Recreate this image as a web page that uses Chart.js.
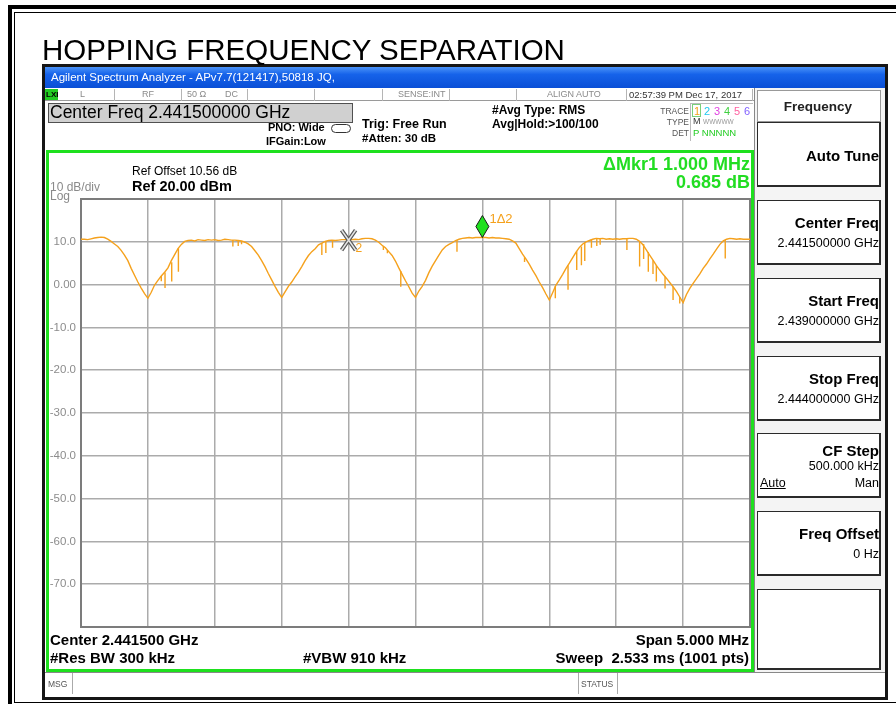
<!DOCTYPE html>
<html>
<head>
<meta charset="utf-8">
<title>Hopping Frequency Separation</title>
<script src="https://cdn.jsdelivr.net/npm/chart.js@4.4.1/dist/chart.umd.min.js"></script>
<style>
  html, body { margin: 0; padding: 0; background: #fff; }
  body { position: relative; width: 896px; height: 704px; overflow: hidden;
         font-family: "Liberation Sans", Arial, sans-serif; color: #000; }
  .a { position: absolute; white-space: pre; line-height: 1; box-sizing: border-box; }
  #chartWrap { position: absolute; left: 0; top: 0; width: 896px; height: 704px; }
  .key { position: absolute; left: 757px; width: 124px; background: #fff;
         border: 1px solid #2a2a2a; border-right-width: 2px; border-bottom-width: 2px; box-sizing: border-box; }
  .cell { position: absolute; top: 89px; height: 12px; width: 1px; background: #b5b5b5; }
</style>
</head>
<body>
<div class="a" style="left:8px;top:5px;width:920px;height:730px;border:4px solid #000;"></div>
<div class="a" style="left:14px;top:12px;width:900px;height:691px;border:1.5px solid #000;"></div>

<!-- analyzer window -->
<div class="a" style="left:42px;top:64px;width:846px;height:636px;border:3px solid #161616;background:#fff;"></div>
<div class="a" style="left:45px;top:67px;width:840px;height:21px;background:linear-gradient(#4b93f8 0%,#1663ea 35%,#0a4fd6 100%);"></div>
<div class="a" style="left:45px;top:88px;width:709px;height:13px;border-bottom:1px solid #9a9a9a;background:#fff;"></div>
<div class="a" style="left:45px;top:89px;width:13px;height:11px;background:#22cc22;"></div>
<div class="a" style="left:754px;top:88px;width:131px;height:584px;background:#f4f4f4;border-left:1px solid #888;"></div>
<div class="a" style="left:48px;top:103px;width:305px;height:20px;background:#d0d0d0;border:1px solid #505050;"></div>
<div class="a" style="left:690px;top:103px;width:63px;height:38px;border-left:1px solid #bbb;border-top:1px solid #bbb;"></div>
<div class="a" style="left:692px;top:104px;width:9px;height:13px;border:1px solid #7ad07a;"></div>
<div class="a" style="left:331px;top:124px;width:20px;height:9px;border:1.5px solid #333;border-radius:5px;"></div>
<div class="a" style="left:46px;top:150px;width:708px;height:522px;border:3px solid #1ee01e;"></div>
<div class="a" style="left:45px;top:672px;width:840px;height:23px;border-top:1px solid #888;background:#fff;"></div>
<div class="a" style="left:72px;top:673px;width:1px;height:21px;background:#aaa;"></div>
<div class="a" style="left:578px;top:673px;width:40px;height:21px;border-left:1px solid #aaa;border-right:1px solid #aaa;"></div>

<div class="key" style="top:90px;height:32px;border:1px solid #999;"></div>
<div class="key" style="top:122px;height:65px;"></div>
<div class="key" style="top:200px;height:65px;"></div>
<div class="key" style="top:278px;height:65px;"></div>
<div class="key" style="top:356px;height:65px;"></div>
<div class="key" style="top:433px;height:65px;"></div>
<div class="key" style="top:511px;height:65px;"></div>
<div class="key" style="top:589px;height:81px;"></div>

<div id="chartWrap"><canvas id="spectrumChart" width="896" height="704"></canvas></div>

<script>
// Sweep: 2.439 GHz .. 2.444 GHz, trace 1 every 25 kHz
const sweepStartMHz = 2439.0;
const sweepStopMHz = 2444.0;
const sweepStepMHz = 0.025;

const levelDbm = [
  10.6, 10.6, 10.5, 10.7, 10.9, 11.0, 11.1, 11.0, 10.6, 10.1, 9.5, 8.9, 8.0, 6.9, 5.6, 3.8, 2.2, 0.6, -0.8, -2.1,
  -3.2, -1.8, -0.1, 1.0, 2.0, 2.9, 3.9, 5.6, 7.0, 8.4, 9.4, 10.1, 10.3, 10.4, 10.2, 10.5, 10.4, 10.3, 10.5, 10.4,
  10.5, 10.3, 10.4, 10.6, 10.5, 10.4, 10.4, 10.3, 10.2, 9.9, 9.5, 8.9, 7.9, 6.9, 5.6, 4.2, 2.6, 1.1, -0.4, -1.8,
  -3.0, -1.7, -0.4, 0.6, 1.8, 2.9, 4.2, 5.6, 6.8, 7.7, 8.4, 9.3, 9.7, 10.1, 10.3, 10.4, 10.3, 10.4, 10.5, 10.5,
  10.4, 10.5, 10.6, 10.5, 10.7, 10.8, 10.8, 10.7, 10.4, 9.9, 9.2, 8.6, 7.7, 6.8, 5.5, 3.9, 2.4, 0.9, -0.5, -2.0,
  -3.0, -1.5, -0.4, 1.0, 2.8, 4.3, 5.6, 6.9, 8.1, 8.9, 9.4, 9.8, 10.3, 10.6, 10.8, 10.9, 11.0, 10.9, 11.0, 11.0,
  11.0, 11.0, 10.9, 11.0, 10.9, 10.9, 10.8, 10.7, 10.6, 10.2, 9.7, 8.4, 7.1, 6.0, 4.8, 3.4, 2.1, 0.6, -0.7, -2.2,
  -3.6, -1.9, -0.1, 1.1, 2.4, 3.8, 5.0, 6.3, 7.6, 8.7, 9.5, 10.0, 10.3, 10.6, 10.8, 10.7, 10.8, 10.6, 10.7, 10.6,
  10.7, 10.6, 10.7, 10.7, 10.8, 10.8, 10.6, 10.1, 9.3, 8.1, 6.9, 5.7, 4.5, 3.4, 2.4, 1.5, 0.5, -0.5, -1.6, -2.9,
  -4.2, -2.3, -0.9, 0.3, 1.4, 2.5, 3.8, 4.8, 6.0, 7.1, 8.3, 9.4, 10.2, 10.6, 10.8, 10.7, 10.6, 10.7, 10.6, 10.6,
  10.6,
];

// narrow drop-outs on the trace: frequency, level where it leaves the trace, lowest level
const spikeFreqMHz = [
  2439.600, 2439.628, 2439.678, 2439.728, 2440.135, 2440.175, 2440.200, 2440.800, 2440.830, 2440.880,
  2441.260, 2441.290, 2441.390, 2441.810, 2442.315, 2442.545, 2442.640, 2442.705, 2442.740, 2442.765,
  2442.815, 2442.855, 2442.880, 2443.080, 2443.175, 2443.205, 2443.240, 2443.275, 2443.300, 2443.365,
  2443.425, 2443.475, 2443.815,
];
const spikeTopDbm = [
  2.0, 2.8, 5.2, 8.5, 10.4, 10.3, 10.2, 9.7, 10.1, 10.3,
  9.0, 8.1, 3.2, 10.4, 6.4, -0.3, 4.5, 7.8, 8.9, 9.8,
  10.6, 10.8, 10.7, 10.7, 10.1, 9.5, 7.6, 5.7, 4.5, 1.9,
  -0.5, -2.9, 10.4,
];
const spikeBottomDbm = [
  0.8, -0.8, 0.7, 3.0, 8.9, 9.0, 9.4, 6.9, 7.4, 8.6,
  8.1, 7.3, -0.5, 7.7, 5.3, -3.2, -1.2, 3.4, 4.5, 5.5,
  8.6, 9.0, 9.3, 8.1, 4.2, 6.0, 3.0, 2.5, 0.7, -0.9,
  -3.6, -4.4, 6.1,
];

const yTickValues = [20, 10, 0, -10, -20, -30, -40, -50, -60, -70, -80];
const yTickLabels = ["", "10.0", "0.00", "-10.0", "-20.0", "-30.0", "-40.0", "-50.0", "-60.0", "-70.0", ""];

const markerNames = ["1\u03942", "2"];
const markerFreqMHz = [2442.0, 2441.0];

const TRACE_COLOR = "#f5a11c";

// plain text helper: x/baseline in page pixels
function label(text, x, baseline, size, opts = {}) {
  const el = document.createElement("div");
  el.className = "a";
  el.textContent = text;
  el.style.fontSize = size + "px";
  el.style.top = (baseline - 0.85 * size) + "px";
  if (opts.align === "right") el.style.right = (896 - x) + "px";
  else if (opts.align === "center") { el.style.left = (x - 100) + "px"; el.style.width = "200px"; el.style.textAlign = "center"; }
  else el.style.left = x + "px";
  if (opts.bold) el.style.fontWeight = "bold";
  if (opts.color) el.style.color = opts.color;
  if (opts.underline) el.style.textDecoration = "underline";
  document.body.appendChild(el);
  return el;
}

function drawChrome() {
  label("HOPPING FREQUENCY SEPARATION", 42, 60, 29.5);
  label("Agilent Spectrum Analyzer - APv7.7(121417),50818 JQ,", 51, 82, 11.5, { color: "#fff" });

  // status row
  [115, 182, 248, 315, 383, 450, 517, 627, 753].forEach((x) => {
    const c = document.createElement("div");
    c.className = "cell";
    c.style.left = (x - 1) + "px";
    document.body.appendChild(c);
  });
  label("LXI", 46, 98, 8, { bold: true });
  const grey = "#8a8a8a";
  label("L", 80, 98, 9, { color: grey });
  label("RF", 142, 98, 9, { color: grey });
  label("50 \u03A9", 187, 98, 9, { color: grey });
  label("DC", 225, 98, 9, { color: grey });
  label("SENSE:INT", 398, 98, 9, { color: grey });
  label("ALIGN AUTO", 547, 98, 9, { color: grey });
  label("02:57:39 PM Dec 17, 2017", 629, 98, 9.5, { color: "#333" });

  // header
  label("Center Freq 2.441500000 GHz", 50, 119, 17.5);
  label("PNO: Wide", 268, 131, 11, { bold: true });
  label("IFGain:Low", 266, 145, 11, { bold: true });
  label("Trig: Free Run", 362, 129, 12.5, { bold: true });
  label("#Atten: 30 dB", 362, 143, 11.5, { bold: true });
  label("#Avg Type: RMS", 492, 114, 12, { bold: true });
  label("Avg|Hold:>100/100", 492, 128, 12, { bold: true });
  label("TRACE", 689, 114, 8.5, { align: "right", color: "#555" });
  label("TYPE", 689, 125, 8.5, { align: "right", color: "#555" });
  label("DET", 689, 136, 8.5, { align: "right", color: "#555" });
  const traceColors = ["#f5a11c", "#22c8f0", "#e040e0", "#40d040", "#ff60a0", "#8060ff"];
  ["1", "2", "3", "4", "5", "6"].forEach((t, i) => label(t, 694 + i * 10, 115, 11, { color: traceColors[i] }));
  label("M", 693, 125, 9, { color: "#333" });
  label("WWWWW", 703, 125, 6.5, { color: "#999" });
  label("P NNNNN", 693, 136, 9.5, { color: "#22cc22" });

  // inside the plot frame
  label("Ref Offset 10.56 dB", 132, 175, 12);
  label("Ref 20.00 dBm", 132, 191, 14.5, { bold: true });
  label("10 dB/div", 50, 191, 12, { color: grey });
  label("Log", 50, 200, 12, { color: grey });
  label("\u0394Mkr1 1.000 MHz", 750, 170, 18, { bold: true, align: "right", color: "#22dd22" });
  label("0.685 dB", 750, 188, 18, { bold: true, align: "right", color: "#22dd22" });
  label("Center 2.441500 GHz", 50, 645, 15, { bold: true });
  label("#Res BW 300 kHz", 50, 663, 15, { bold: true });
  label("#VBW 910 kHz", 303, 663, 15, { bold: true });
  label("Span 5.000 MHz", 749, 645, 15, { bold: true, align: "right" });
  label("Sweep  2.533 ms (1001 pts)", 749, 663, 15, { bold: true, align: "right" });

  // bottom status bar
  label("MSG", 48, 687, 8.5, { color: "#555" });
  label("STATUS", 581, 687, 8.5, { color: "#555" });

  // soft keys
  label("Frequency", 818, 111, 13.5, { bold: true, align: "center", color: "#222" });
  label("Auto Tune", 879, 161, 15, { bold: true, align: "right" });
  label("Center Freq", 879, 228, 15, { bold: true, align: "right" });
  label("2.441500000 GHz", 879, 248, 12.5, { align: "right" });
  label("Start Freq", 879, 306, 15, { bold: true, align: "right" });
  label("2.439000000 GHz", 879, 326, 12.5, { align: "right" });
  label("Stop Freq", 879, 384, 15, { bold: true, align: "right" });
  label("2.444000000 GHz", 879, 404, 12.5, { align: "right" });
  label("CF Step", 879, 456, 15, { bold: true, align: "right" });
  label("500.000 kHz", 879, 471, 12.5, { align: "right" });
  label("Auto", 760, 488, 12.5, { underline: true });
  label("Man", 879, 488, 12.5, { align: "right" });
  label("Freq Offset", 879, 539, 15, { bold: true, align: "right" });
  label("0 Hz", 879, 559, 12.5, { align: "right" });
}

// dark frame round the graticule, under the trace
const plotFrame = {
  id: "plotFrame",
  beforeDatasetsDraw(chart) {
    const { ctx, chartArea: a } = chart;
    ctx.save();
    ctx.strokeStyle = "#7c7c7c";
    ctx.lineWidth = 2;
    ctx.strokeRect(a.left, a.top, a.right - a.left, a.bottom - a.top);
    ctx.restore();
  },
};

// marker 1 (delta, green diamond) and marker 2 (reference, grey X)
const markers = {
  id: "markers",
  afterDatasetsDraw(chart) {
    const { ctx, scales } = chart;
    const at = (f) => {
      const i = Math.round((f - sweepStartMHz) / sweepStepMHz);
      return { x: scales.x.getPixelForValue(f), y: scales.y.getPixelForValue(levelDbm[i]) };
    };
    ctx.save();

    const m2 = at(markerFreqMHz[1]);
    ctx.lineCap = "butt";
    [["#5a5a5a", 4], ["#e6e6e6", 1.6]].forEach(([c, w]) => {
      ctx.strokeStyle = c;
      ctx.lineWidth = w;
      ctx.beginPath();
      ctx.moveTo(m2.x - 7, m2.y - 10);
      ctx.lineTo(m2.x + 7, m2.y + 10);
      ctx.moveTo(m2.x + 7, m2.y - 10);
      ctx.lineTo(m2.x - 7, m2.y + 10);
      ctx.stroke();
    });
    ctx.fillStyle = TRACE_COLOR;
    ctx.font = "12px 'Liberation Sans', Arial";
    ctx.fillText(markerNames[1], m2.x + 7, m2.y + 12);

    const m1 = at(markerFreqMHz[0]);
    ctx.beginPath();
    ctx.moveTo(m1.x, m1.y);
    ctx.lineTo(m1.x + 6.5, m1.y - 11);
    ctx.lineTo(m1.x, m1.y - 22);
    ctx.lineTo(m1.x - 6.5, m1.y - 11);
    ctx.closePath();
    ctx.fillStyle = "#1fe01f";
    ctx.fill();
    ctx.strokeStyle = "#1a1a1a";
    ctx.lineWidth = 1;
    ctx.stroke();
    ctx.fillStyle = TRACE_COLOR;
    ctx.font = "13px 'Liberation Sans', Arial";
    ctx.fillText(markerNames[0], m1.x + 7, m1.y - 15);

    ctx.restore();
  },
};

function buildChart() {
  const points = levelDbm.map((v, i) => ({ x: sweepStartMHz + i * sweepStepMHz, y: v }));
  // each drop-out is a vertical segment, separated by a gap
  const spikePoints = [];
  spikeFreqMHz.forEach((f, i) => {
    spikePoints.push({ x: f, y: spikeTopDbm[i] }, { x: f, y: spikeBottomDbm[i] }, { x: f, y: null });
  });
  const gridStyle = { color: "#ababab", lineWidth: 1.5, drawTicks: false };

  new Chart(document.getElementById("spectrumChart"), {
    type: "line",
    data: {
      datasets: [
        {
          data: points,
          borderColor: TRACE_COLOR,
          borderWidth: 1.4,
          pointRadius: 0,
          tension: 0,
          fill: false,
        },
        {
          data: spikePoints,
          borderColor: TRACE_COLOR,
          borderWidth: 1.4,
          pointRadius: 0,
          tension: 0,
          fill: false,
          spanGaps: false,
        },
      ],
    },
    options: {
      responsive: false,
      animation: false,
      events: [],
      layout: { padding: { left: 0, top: 199, right: 146, bottom: 77 } },
      plugins: { legend: { display: false }, tooltip: { enabled: false } },
      scales: {
        x: {
          type: "linear",
          min: sweepStartMHz,
          max: sweepStopMHz,
          ticks: { display: false, stepSize: 0.5 },
          grid: gridStyle,
          border: { display: false },
          afterFit: (s) => { s.height = 0; },
        },
        y: {
          min: yTickValues[yTickValues.length - 1],
          max: yTickValues[0],
          ticks: {
            stepSize: 10,
            padding: 5,
            color: "#8c8c8c",
            font: { family: "'Liberation Sans', Arial", size: 11.5 },
            callback: (v) => {
              const i = yTickValues.indexOf(v);
              return i >= 0 ? yTickLabels[i] : "";
            },
          },
          grid: gridStyle,
          border: { display: false },
          afterFit: (s) => { s.width = 81; },
        },
      },
    },
    plugins: [plotFrame, markers],
  });
}

drawChrome();
buildChart();
</script>
</body>
</html>
